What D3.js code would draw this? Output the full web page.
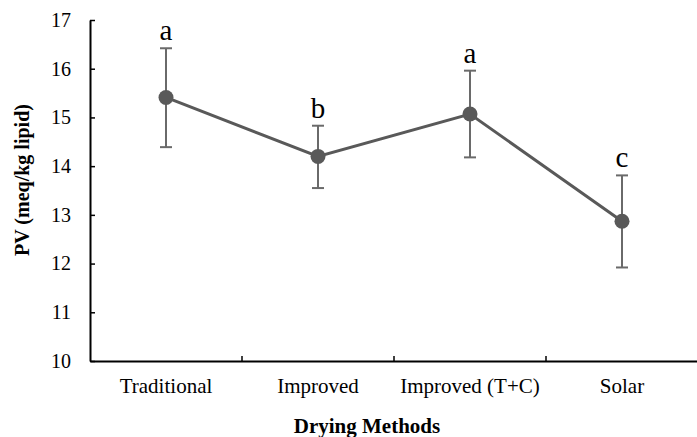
<!DOCTYPE html>
<html lang="en">
<head>
    <meta charset="UTF-8">
    <title>PV by drying method</title>
    <script src="https://d3js.org/d3.v7.min.js"></script>
    <style>
        body { margin: 0; background: #fff; }
    </style>
</head>
<body>
    <div class="canvas"></div>
    <script>
        // data
        const methods = ['Traditional', 'Improved', 'Improved (T+C)', 'Solar'];
        const pvMean = [15.41, 14.2, 15.07, 12.87];
        const pvLow = [14.39, 13.55, 14.18, 11.92];
        const pvHigh = [16.42, 14.83, 15.96, 13.81];
        const groups = ['a', 'b', 'a', 'c'];
        const yTicks = [10, 11, 12, 13, 14, 15, 16, 17];

        const serif = '"Liberation Serif", "Times New Roman", Times, serif';
        const width = 697;
        const height = 437;
        // plot box
        let [mt, mr, mb, ml] = [20, -1, 76, 90];
        const graphWidth = width - ml - mr;
        const graphHeight = height - mt - mb;

        const svg = d3.select('.canvas')
            .append('svg')
            .attr('width', width)
            .attr('height', height)
            .style('font-family', serif);

        const graph = svg.append('g')
            .attr('transform', `translate(${ml}, ${mt})`);

        const x = d3.scaleBand()
            .domain(methods)
            .range([0, graphWidth]);

        const y = d3.scaleLinear()
            .domain([10, 17])
            .range([graphHeight, 0]);

        const data = methods.map((m, i) => ({
            m, mean: pvMean[i], lo: pvLow[i], hi: pvHigh[i], g: groups[i]
        }));
        const cx = d => x(d.m) + x.bandwidth() / 2;

        // axes (ticks point inward)
        const yAxisG = graph.append('g')
            .call(d3.axisLeft(y).tickValues(yTicks).tickFormat(d3.format('d'))
                .tickSize(-5).tickPadding(19).tickSizeOuter(0));

        const xAxisG = graph.append('g')
            .attr('transform', `translate(0, ${graphHeight})`)
            .call(d3.axisBottom(x).tickSize(0).tickPadding(17));
        // tick marks on the band boundaries
        xAxisG.selectAll('.bound')
            .data(methods.slice(1))
            .enter()
            .append('line')
            .attr('x1', d => x(d)).attr('x2', d => x(d))
            .attr('y1', 0).attr('y2', -5)
            .attr('stroke', '#000').attr('stroke-width', 1.5);

        [xAxisG, yAxisG].forEach(g => {
            g.attr('font-family', serif).attr('font-size', 20);
            g.selectAll('text').style('font-family', serif).style('font-size', '20px').attr('fill', '#000');
            g.select('.domain').attr('stroke', '#000').attr('stroke-width', 2);
            g.selectAll('.tick line').attr('stroke', '#000').attr('stroke-width', 1.5);
        });
        xAxisG.selectAll('text').style('font-size', '21px');

        // error bars
        const err = graph.append('g').attr('stroke', '#6a6a6a').attr('stroke-width', 2);
        err.selectAll('.v').data(data).enter().append('line')
            .attr('x1', cx).attr('x2', cx)
            .attr('y1', d => y(d.lo)).attr('y2', d => y(d.hi));
        err.selectAll('.t').data(data).enter().append('line')
            .attr('x1', d => cx(d) - 6).attr('x2', d => cx(d) + 6)
            .attr('y1', d => y(d.hi)).attr('y2', d => y(d.hi));
        err.selectAll('.b').data(data).enter().append('line')
            .attr('x1', d => cx(d) - 6).attr('x2', d => cx(d) + 6)
            .attr('y1', d => y(d.lo)).attr('y2', d => y(d.lo));

        // line + markers
        const line = d3.line().x(cx).y(d => y(d.mean));
        graph.append('path')
            .datum(data)
            .attr('d', line)
            .attr('fill', 'none')
            .attr('stroke', '#595959')
            .attr('stroke-width', 3);

        graph.selectAll('circle')
            .data(data)
            .enter()
            .append('circle')
            .attr('cx', cx)
            .attr('cy', d => y(d.mean))
            .attr('r', 7.5)
            .attr('fill', '#595959');

        // significance letters
        graph.selectAll('.grp')
            .data(data)
            .enter()
            .append('text')
            .attr('x', cx)
            .attr('y', d => y(d.hi) - 8)
            .attr('text-anchor', 'middle')
            .style('font-size', '29px')
            .text(d => d.g);

        // axis titles
        svg.append('text')
            .attr('x', 367)
            .attr('y', 433)
            .attr('text-anchor', 'middle')
            .style('font-size', '21px')
            .style('font-weight', 'bold')
            .text('Drying Methods');

        svg.append('text')
            .attr('transform', 'translate(29, 180) rotate(-90)')
            .attr('text-anchor', 'middle')
            .style('font-size', '20px')
            .style('font-weight', 'bold')
            .text('PV (meq/kg lipid)');
    </script>
</body>
</html>
